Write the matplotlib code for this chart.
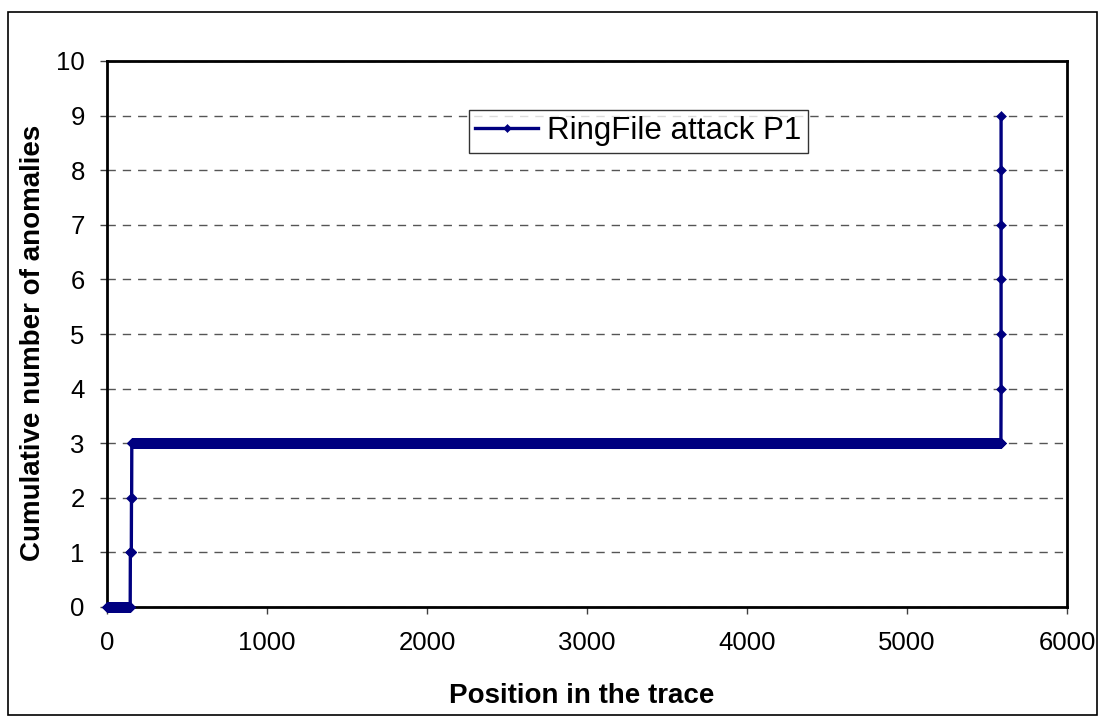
import matplotlib
matplotlib.use("Agg")
import matplotlib.pyplot as plt
from matplotlib.patches import Rectangle
import numpy as np

# positions in the trace where an anomaly was flagged (repeats = several at once)
anomaly_positions = [146, 153, 155, 5588, 5588, 5588, 5588, 5588, 5588]
trace_end = 5588
series_name = "RingFile attack P1"

x_ticks = [0, 1000, 2000, 3000, 4000, 5000, 6000]
y_ticks = list(range(0, 11))

# one point per trace position, one extra point per anomaly at the same spot
xs, ys = [], []
count = 0
for p in range(trace_end + 1):
    n = anomaly_positions.count(p)
    if n == 0:
        xs.append(p)
        ys.append(count)
    for _ in range(n):
        count += 1
        xs.append(p)
        ys.append(count)
xs = np.array(xs)
ys = np.array(ys)

plt.rcParams['font.family'] = ['Liberation Sans', 'DejaVu Sans']

W, H = 1102, 720
fig = plt.figure(figsize=(W / 100, H / 100), dpi=100)
ax = fig.add_axes([107 / W, 1 - 607 / H, 960 / W, 546 / H])

navy = '#000080'
ax.plot(xs, ys, color=navy, lw=2.4, marker='D', markersize=5,
        markeredgewidth=0.4, label=series_name, clip_on=False, zorder=5)

ax.set_xlim(0, 6000)
ax.set_ylim(0, 10)
ax.set_xticks(x_ticks)
ax.set_yticks(y_ticks)
ax.tick_params(axis='both', direction='out', length=5, width=1,
               color='#404040', labelsize=18.5)
ax.tick_params(axis='x', pad=12)
ax.tick_params(axis='y', pad=11)

ax.yaxis.grid(True, linestyle=(0, (6, 5)), color='#555555', lw=1)
ax.set_axisbelow(True)
for s in ax.spines.values():
    s.set_linewidth(2)
    s.set_color('black')

fig.text(582 / W, 1 - 696 / H, "Position in the trace", fontsize=20,
         fontweight='bold', ha='center', va='center')
fig.text(33 / W, 1 - 343 / H, "Cumulative number of anomalies", fontsize=20,
         fontweight='bold', ha='center', va='center', rotation=90)

leg = ax.legend(loc='upper left', bbox_to_anchor=(469 / W, 1 - 110 / H),
                bbox_transform=fig.transFigure, fontsize=22.5, frameon=True,
                fancybox=False, borderpad=0.2, handlelength=2.0,
                handletextpad=0.3, borderaxespad=0, markerscale=0.8)
leg.get_frame().set_edgecolor('black')
leg.get_frame().set_linewidth(1)

fig.patches.append(Rectangle((8 / W, 1 - 715 / H), 1089 / W, 703 / H,
                             transform=fig.transFigure, fill=False,
                             edgecolor='black', lw=1.2))

fig.savefig("out.png", dpi=100)
